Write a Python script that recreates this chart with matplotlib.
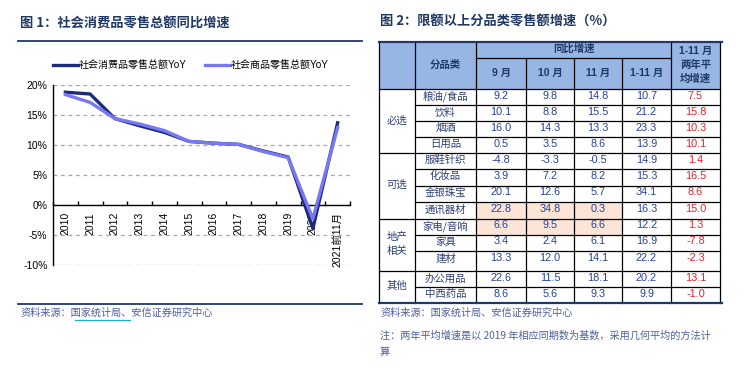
import matplotlib
matplotlib.use('Agg')
import matplotlib.pyplot as plt
from matplotlib.patches import Rectangle
import numpy as np

plt.rcParams['font.family'] = ['Liberation Sans', 'Noto Sans CJK SC', 'DejaVu Sans']

# 左图数据：社零同比增速 (%)
years = ['2010', '2011', '2012', '2013', '2014', '2015', '2016', '2017',
         '2018', '2019', '2020', '2021前11月']
retail_yoy = [18.8, 18.5, 14.4, 13.2, 12.1, 10.6, 10.3, 10.1, 9.0, 8.0, -3.9, 13.7]
goods_yoy = [18.4, 17.1, 14.4, 13.5, 12.4, 10.6, 10.3, 10.1, 8.9, 7.9, -2.3, 12.9]

# 右表数据：限额以上分品类零售额增速 (%)
groups = ['必选', '可选', '地产\n相关', '其他']
group_sizes = [4, 4, 3, 2]
items = ['粮油/食品', '饮料', '烟酒', '日用品', '服鞋针织', '化妆品', '金银珠宝',
         '通讯器材', '家电/音响', '家具', '建材', '办公用品', '中西药品']
sep_yoy = [9.2, 10.1, 16.0, 0.5, -4.8, 3.9, 20.1, 22.8, 6.6, 3.4, 13.3, 22.6, 8.6]
oct_yoy = [9.8, 8.8, 14.3, 3.5, -3.3, 7.2, 12.6, 34.8, 9.5, 2.4, 12.0, 11.5, 5.6]
nov_yoy = [14.8, 15.5, 13.3, 8.6, -0.5, 8.2, 5.7, 0.3, 6.6, 6.1, 14.1, 18.1, 9.3]
ytd_yoy = [10.7, 21.2, 23.3, 13.9, 14.9, 15.3, 34.1, 16.3, 12.2, 16.9, 22.2, 20.2, 9.9]
avg_2y = [7.5, 15.8, 10.3, 10.1, 1.4, 16.5, 8.6, 15.0, 1.3, -7.8, -2.3, 13.1, -1.0]
month_heads = ['9 月', '10 月', '11 月', '1-11 月']
highlight = [(7, 0), (7, 1), (7, 2), (8, 0), (8, 1), (8, 2)]

navy = '#1f3864'
dark_line = '#1c2a7e'
light_line = '#7878f2'

fig = plt.figure(figsize=(7.52, 3.68), dpi=100)

# ---------- 左图 ----------
ax = fig.add_axes([53 / 752, 1 - 265 / 368, 297 / 752, 180 / 368])
x = np.arange(len(years)) + 0.5
ax.plot(x, retail_yoy, color=dark_line, lw=2.4, label='社会消费品零售总额YoY', zorder=3)
ax.plot(x, goods_yoy, color=light_line, lw=2.4, label='社会商品零售总额YoY', zorder=4)
ax.set_xlim(0, len(years))
ax.set_ylim(-10, 20)
ax.set_yticks([-10, -5, 0, 5, 10, 15, 20])
ax.set_yticklabels([f'{v}%' for v in [-10, -5, 0, 5, 10, 15, 20]], fontsize=7.5)
ax.tick_params(axis='y', length=0, pad=4)
ax.spines['top'].set_visible(False)
ax.spines['right'].set_visible(False)
ax.spines['bottom'].set_position(('data', 0))
ax.spines['left'].set_linewidth(1)
ax.spines['bottom'].set_linewidth(1)
ax.set_xticks(np.arange(len(years) + 1))
ax.set_xticklabels([])
ax.tick_params(axis='x', which='major', direction='in', length=3, width=1)
ax.set_xticks(x, minor=True)
ax.set_xticklabels(years, minor=True, rotation=90, fontsize=7.5, va='top')
ax.tick_params(axis='x', which='minor', length=0, pad=5)
ax.yaxis.grid(True, linestyle=(0, (3, 3)), color='#a6a6a6', lw=0.9)
ax.set_axisbelow(True)
ax.legend(loc='center left', bbox_to_anchor=(0, 1.106), ncol=2, frameon=False,
          fontsize=7.2, handlelength=2.5, handletextpad=0.1, columnspacing=1.8,
          borderaxespad=0, borderpad=0)

# ---------- 叠加层：标题、表格、注释 ----------
ov = fig.add_axes([0, 0, 1, 1])
ov.set_xlim(0, 752)
ov.set_ylim(368, 0)
ov.axis('off')

title_font = dict(family=['Noto Sans CJK SC'], fontsize=9.5, weight='bold', color=navy,
                  va='center', ha='left')
ov.text(20, 24, '图 1：社会消费品零售总额同比增速', **title_font)
ov.text(380, 22, '图 2：限额以上分品类零售额增速（%）', **title_font)
ov.plot([18, 362], [41, 41], color=navy, lw=1.3)
ov.plot([18, 362], [304, 304], color=navy, lw=1.3)

note_font = dict(family=['Noto Sans CJK SC'], fontsize=7.3, style='italic',
                 color='#4f5f9f', va='center', ha='left')
ov.text(20, 313, '资料来源：国家统计局、安信证券研究中心', **note_font)
ov.plot([75, 130], [319.5, 319.5], color='#20b0c8', lw=0.9)
ov.text(380, 313, '资料来源：国家统计局、安信证券研究中心', **note_font)
ov.text(380, 336, '注：两年平均增速是以 2019 年相应同期数为基数，采用几何平均的方法计', **note_font)
ov.text(380, 352, '算', **note_font)

# 表格布局
col_w = [36, 61, 50, 48, 48, 49, 49]
head_h = [15.7, 31.6]
row_h = [16, 16, 16, 16, 16, 16.4, 16.6, 16.7, 16, 15.7, 20.6, 16, 16]
tx0, ty0 = 379, 42
cx = tx0 + np.concatenate([[0], np.cumsum(col_w)])
hy = ty0 + np.concatenate([[0], np.cumsum(head_h)])
ry = hy[-1] + np.concatenate([[0], np.cumsum(row_h)])
ty1 = ry[-1]

ov.add_patch(Rectangle((cx[0], hy[0]), cx[-1] - cx[0], hy[-1] - hy[0],
                       facecolor='#97b6e3', edgecolor='none', zorder=1))
for r, c in highlight:
    ov.add_patch(Rectangle((cx[c + 2], ry[r]), col_w[c + 2], row_h[r],
                           facecolor='#fce4d6', edgecolor='none', zorder=1))

grid_kw = dict(color='black', lw=0.9, zorder=2)
for i, xe in enumerate(cx):
    top = hy[1] if 3 <= i <= 5 else hy[0]
    ov.plot([xe, xe], [top, ty1], **grid_kw)
ov.plot([cx[2], cx[6]], [hy[1], hy[1]], **grid_kw)
ov.plot([cx[0], cx[-1]], [hy[2], hy[2]], **grid_kw)
bounds = np.cumsum(group_sizes)
for r in range(1, len(items)):
    x_start = cx[0] if r in bounds else cx[1]
    ov.plot([x_start, cx[-1]], [ry[r], ry[r]], **grid_kw)
ov.plot([cx[0], 722], [ty0, ty0], color=navy, lw=1.6, zorder=3)
ov.plot([cx[0], 722], [ty1, ty1], color=navy, lw=1.6, zorder=3)

head_font = dict(family=['Liberation Sans', 'Noto Sans CJK SC'], fontsize=7.5,
                 weight='bold', color=navy, ha='center', va='center', zorder=4)
ov.text((cx[2] + cx[6]) / 2, (hy[0] + hy[1]) / 2 - 1, '同比增速', **head_font)
ov.text((cx[1] + cx[2]) / 2, (hy[0] + hy[2]) / 2 - 1, '分品类', **head_font)
for j, h in enumerate(month_heads):
    ov.text((cx[j + 2] + cx[j + 3]) / 2, (hy[1] + hy[2]) / 2 - 1, h, **head_font)
ov.text((cx[6] + cx[7]) / 2, (hy[0] + hy[2]) / 2 - 1, '1-11 月\n两年平\n均增速',
        linespacing=1.45, **head_font)

label_font = dict(family=['Noto Sans CJK SC'], fontsize=7.5, color='#2e3f73',
                  ha='center', va='center', zorder=4)
num_font = dict(family=['Liberation Sans'], fontsize=7.8, ha='center', va='center', zorder=4)
start = 0
for g, n in zip(groups, group_sizes):
    ov.text((cx[0] + cx[1]) / 2, (ry[start] + ry[start + n]) / 2 - 1, g,
            linespacing=1.5, **label_font)
    start += n
for r, name in enumerate(items):
    yc = ry[r] + 6.5 if row_h[r] < 18 else ry[r] + 7.5
    ov.text((cx[1] + cx[2]) / 2, yc + 0.5, name, **label_font)
    for j, vals in enumerate([sep_yoy, oct_yoy, nov_yoy, ytd_yoy]):
        ov.text((cx[j + 2] + cx[j + 3]) / 2, yc, f'{vals[r]:.1f}', color='#25419b', **num_font)
    ov.text((cx[6] + cx[7]) / 2, yc, f'{avg_2y[r]:.1f}', color='#e8202a', **num_font)

fig.savefig('out.png', dpi=100)
